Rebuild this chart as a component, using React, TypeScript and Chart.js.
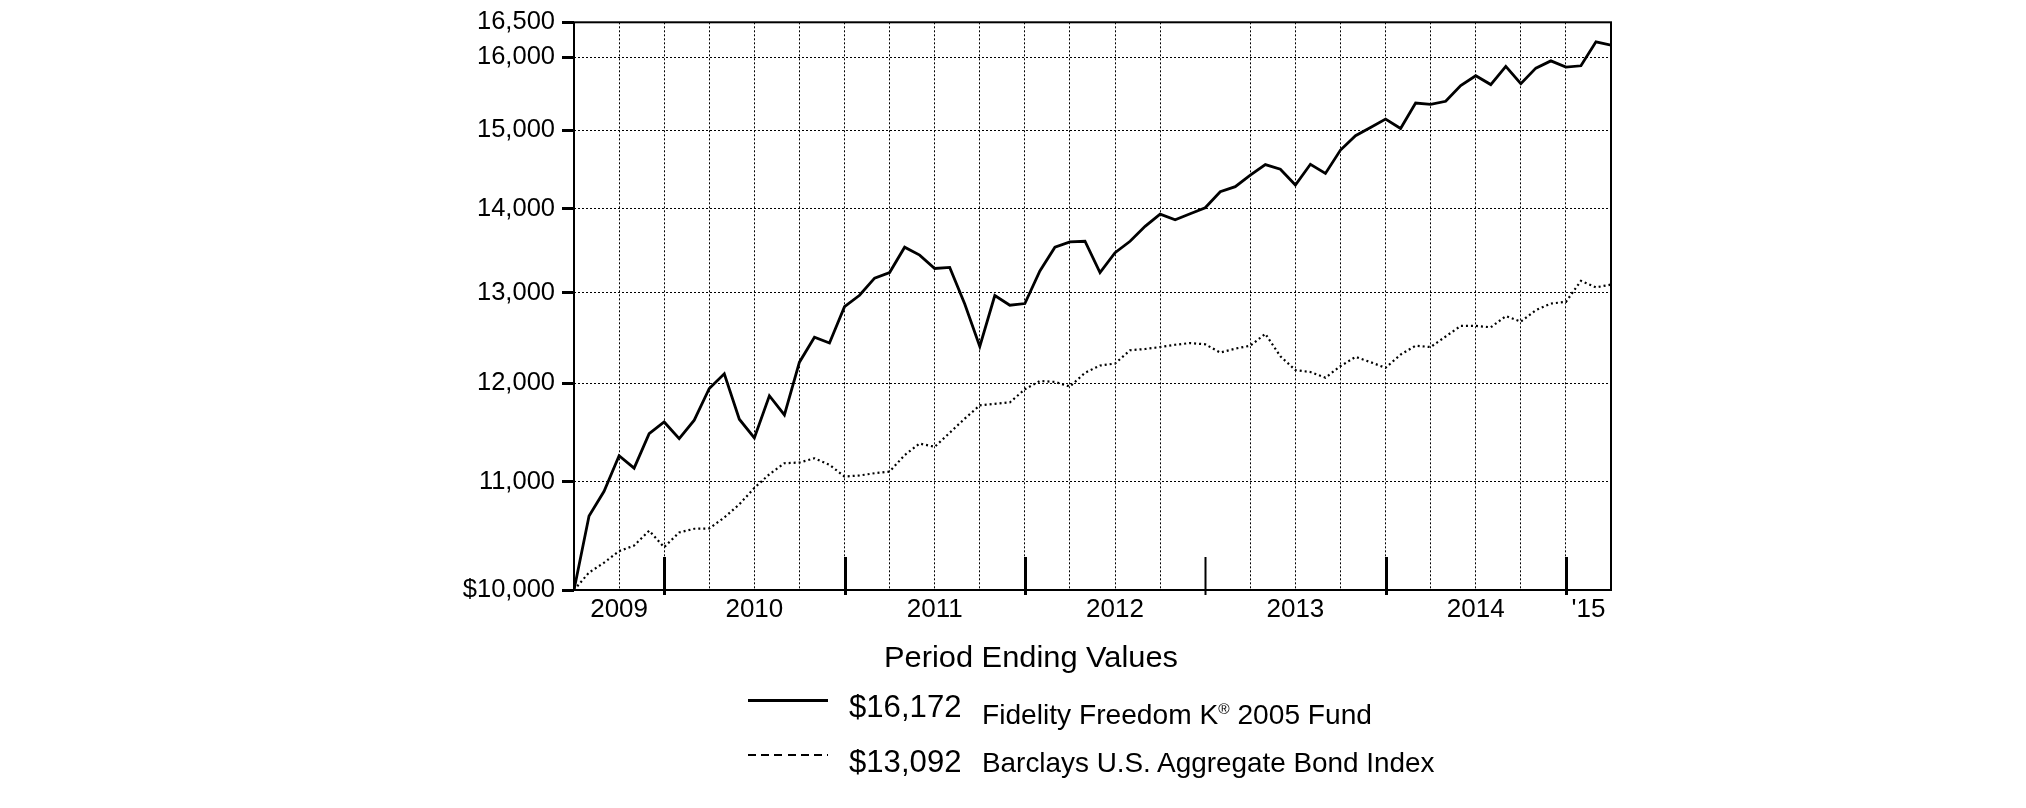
import React, { useEffect, useRef } from 'react';
import { Chart, registerables } from 'chart.js';

Chart.register(...registerables);

// Monthly period: inception Jul 2009 (index 0) to Mar 31, 2015 (index 69)
const START_MONTH = 7; // July

const fundValues = [
  10000, 10675, 10910, 11257, 11135, 11478, 11598, 11428, 11616, 11945,
  12101, 11626, 11436, 11869, 11670, 12226, 12498, 12434, 12839, 12969,
  13166, 13232, 13531, 13437, 13279, 13291, 12870, 12397, 12966, 12856,
  12875, 13251, 13531, 13594, 13602, 13232, 13465, 13602, 13782, 13932,
  13863, 13936, 14010, 14210, 14273, 14420, 14554, 14495, 14294, 14558,
  14441, 14741, 14930, 15039, 15149, 15025, 15366, 15349, 15389, 15605,
  15740, 15618, 15870, 15631, 15846, 15948, 15860, 15879, 16219, 16172,
];

const bondValues = [
  10000, 10155, 10244, 10349, 10400, 10537, 10385, 10521, 10555, 10558,
  10660, 10785, 10942, 11075, 11183, 11190, 11232, 11167, 11053, 11063,
  11085, 11101, 11264, 11379, 11346, 11488, 11632, 11769, 11785, 11800,
  11937, 12025, 12015, 11966, 12112, 12190, 12211, 12355, 12369, 12390,
  12415, 12434, 12420, 12330, 12373, 12405, 12535, 12290, 12141, 12120,
  12060, 12183, 12283, 12226, 12165, 12308, 12405, 12390, 12506, 12623,
  12623, 12608, 12733, 12671, 12800, 12875, 12894, 13135, 13060, 13092,
];

const yTickValues = [10000, 11000, 12000, 13000, 14000, 15000, 16000, 16500];
const yearLabels = ['2009', '2010', '2011', '2012', '2013', '2014', "'15"];
const legendTitle = 'Period Ending Values';
const legendAmounts = ['$16,172', '$13,092'];
const legendNames = ['Fidelity Freedom K® 2005 Fund', 'Barclays U.S. Aggregate Bond Index'];
const hiddenGridMonths = [42];

const LAST = fundValues.length - 1;
const yearStarts: number[] = [];
for (let i = 1; i < LAST; i++) if ((START_MONTH - 1 + i) % 12 === 0) yearStarts.push(i);
const yearEdges = [0, ...yearStarts, LAST];
const yearCenters = yearLabels.map((_, k) => (yearEdges[k] + yearEdges[k + 1]) / 2);

const FONT = "'Liberation Sans', Arial, Helvetica, sans-serif";
const CLEAR = 'rgba(0,0,0,0)';

let measureCtx: CanvasRenderingContext2D | null = null;
function measure(text: string, size: number): number {
  if (!measureCtx) measureCtx = document.createElement('canvas').getContext('2d');
  if (!measureCtx) return text.length * size * 0.55;
  measureCtx.font = `${size}px ${FONT}`;
  return measureCtx.measureText(text).width;
}

const framePlugin = {
  id: 'frameAndYearTicks',
  afterDraw(chart: any) {
    const { ctx, chartArea } = chart;
    const { left, top, right, bottom } = chartArea;
    const xs = chart.scales.x;
    ctx.save();
    ctx.setLineDash([]);
    ctx.strokeStyle = '#000';
    ctx.lineWidth = 2;
    ctx.strokeRect(left, top, right - left, bottom - top);
    yearStarts.forEach((m) => {
      const px = Math.round(xs.getPixelForValue(m)) + 0.5;
      ctx.lineWidth = hiddenGridMonths.includes(m) ? 2 : 3;
      ctx.beginPath();
      ctx.moveTo(px, bottom - 33);
      ctx.lineTo(px, bottom + 5);
      ctx.stroke();
    });
    ctx.restore();
  },
};

function TextAt(props: { text: string; left: number; baseline: number; size: number; width: number }) {
  const { text, left, baseline, size, width } = props;
  const parts = text.split('®');
  const supSize = size * 0.55;
  let natural = 0;
  parts.forEach((p, i) => {
    natural += measure(p, size);
    if (i < parts.length - 1) natural += measure('®', supSize);
  });
  const sx = width / natural;
  return (
    <div
      style={{
        position: 'absolute',
        left,
        top: baseline - 0.8465 * size,
        fontFamily: FONT,
        fontSize: size,
        lineHeight: `${size}px`,
        whiteSpace: 'nowrap',
        color: '#000',
        transform: `scaleX(${sx})`,
        transformOrigin: '0 0',
      }}
    >
      {parts.map((p, i) => (
        <React.Fragment key={i}>
          {p}
          {i < parts.length - 1 ? (
            <span style={{ fontSize: supSize, position: 'relative', top: -size * 0.36 }}>®</span>
          ) : null}
        </React.Fragment>
      ))}
    </div>
  );
}

export default function App() {
  const canvasRef = useRef<HTMLCanvasElement | null>(null);

  useEffect(() => {
    if (!canvasRef.current) return;
    const chart = new Chart(canvasRef.current, {
      type: 'line',
      data: {
        datasets: [
          {
            label: legendNames[0],
            data: fundValues.map((v, i) => ({ x: i, y: v })),
            borderColor: '#000',
            borderWidth: 2.8,
            pointRadius: 0,
            tension: 0,
            fill: false,
          },
          {
            label: legendNames[1],
            data: bondValues.map((v, i) => ({ x: i, y: v })),
            borderColor: '#000',
            borderWidth: 2.2,
            borderDash: [2, 3],
            pointRadius: 0,
            tension: 0,
            fill: false,
          },
        ],
      },
      options: {
        animation: false,
        responsive: false,
        devicePixelRatio: 1,
        layout: { padding: { left: 0, top: 15, right: 415, bottom: 178 } },
        plugins: { legend: { display: false }, tooltip: { enabled: false } },
        scales: {
          x: {
            type: 'linear',
            min: 0,
            max: LAST,
            afterBuildTicks: (s: any) => {
              const n = Math.round((LAST * 2) / 3);
              s.ticks = Array.from({ length: n + 1 }, (_, k) => ({ value: k * 1.5 }));
            },
            afterFit: (s: any) => {
              s.height = 40;
            },
            grid: {
              drawTicks: false,
              lineWidth: 1,
              color: (c: any) => {
                const v = c.tick ? c.tick.value : -1;
                if (v <= 0 || v >= LAST || v % 3 !== 0 || hiddenGridMonths.includes(v)) return CLEAR;
                return '#000';
              },
              borderDash: [2, 2],
            } as any,
            border: { display: false, dash: [2, 2] },
            ticks: {
              autoSkip: false,
              maxRotation: 0,
              minRotation: 0,
              padding: 4,
              color: '#000',
              font: { family: FONT, size: 26 },
              callback: (value: any) => {
                const k = yearCenters.indexOf(Number(value));
                return k >= 0 ? yearLabels[k] : '';
              },
            },
          },
          y: {
            type: 'logarithmic',
            min: yTickValues[0],
            max: yTickValues[yTickValues.length - 1],
            afterBuildTicks: (s: any) => {
              s.ticks = yTickValues.map((v) => ({ value: v }));
            },
            afterFit: (s: any) => {
              s.width = 574;
            },
            grid: {
              drawTicks: true,
              tickLength: 12,
              tickWidth: 3,
              tickColor: '#000',
              lineWidth: 1,
              color: (c: any) => {
                const v = c.tick ? c.tick.value : -1;
                if (v === yTickValues[0] || v === yTickValues[yTickValues.length - 1]) return CLEAR;
                return '#000';
              },
              borderDash: [2, 2],
            } as any,
            border: { display: false, dash: [2, 2] },
            ticks: {
              autoSkip: false,
              padding: 7,
              color: '#000',
              font: { family: FONT, size: 25.5 },
              callback: (value: any) => {
                const v = Number(value);
                return (v === yTickValues[0] ? '$' : '') + v.toLocaleString('en-US');
              },
            },
          },
        },
      } as any,
      plugins: [framePlugin],
    });
    return () => chart.destroy();
  }, []);

  return (
    <div style={{ position: 'fixed', left: 0, top: 0, width: 2026, height: 808, background: '#fff' }}>
      <canvas
        ref={canvasRef}
        width={2026}
        height={808}
        style={{ position: 'absolute', left: 0, top: 0, width: 2026, height: 808, display: 'block' }}
      />
      <TextAt text={legendTitle} left={884} baseline={667} size={30} width={294} />
      <div style={{ position: 'absolute', left: 748, top: 698.5, width: 80, height: 3, background: '#000' }} />
      <TextAt text={legendAmounts[0]} left={848.5} baseline={717} size={31} width={112.5} />
      <TextAt text={legendNames[0]} left={982} baseline={725} size={28} width={390} />
      <div
        style={{
          position: 'absolute',
          left: 748,
          top: 754,
          width: 80,
          height: 2,
          background: 'repeating-linear-gradient(to right, #000 0px, #000 8px, transparent 8px, transparent 13.2px)',
        }}
      />
      <TextAt text={legendAmounts[1]} left={848.5} baseline={772} size={31} width={112.5} />
      <TextAt text={legendNames[1]} left={982} baseline={772} size={28.5} width={454} />
    </div>
  );
}
